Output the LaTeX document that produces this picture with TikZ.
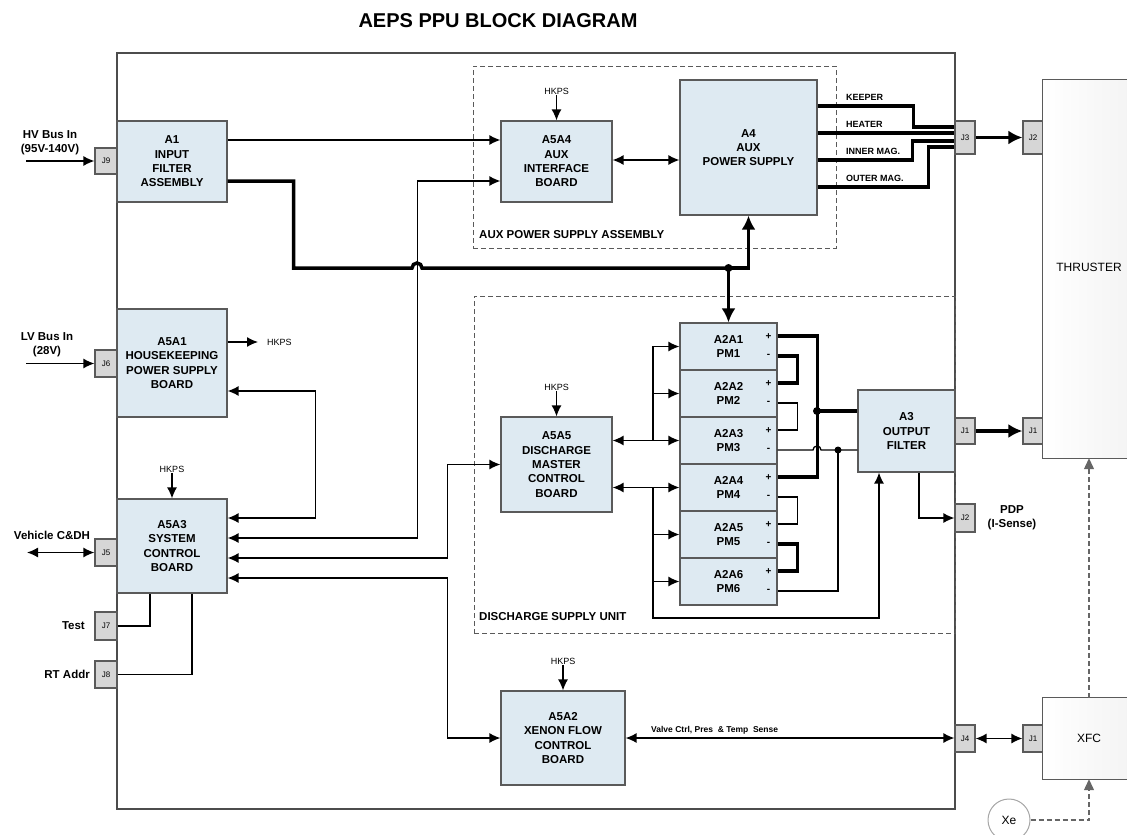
\documentclass[tikz,border=0pt]{standalone}
\usepackage{fontspec}
\setmainfont{Liberation Sans}
\usetikzlibrary{arrows.meta,positioning}
\definecolor{blockblue}{RGB}{222,234,242}
\definecolor{edgegray}{RGB}{90,90,90}
\definecolor{jackgray}{RGB}{214,214,214}

\begin{document}
\begin{tikzpicture}[x=1pt,y=-1pt,
    blk/.style={draw=edgegray,fill=blockblue,line width=1.2pt,inner sep=0pt,align=center,
                font=\bfseries\fontsize{11.5}{14.3}\selectfont},
    jack/.style={draw=edgegray,fill=jackgray,line width=1.2pt,inner sep=0pt,
                 font=\fontsize{8}{9}\selectfont},
    lbl/.style={font=\bfseries\fontsize{11.5}{14}\selectfont,align=center,inner sep=1pt},
    hk/.style={font=\fontsize{9}{10}\selectfont,inner sep=1pt},
    tag/.style={font=\bfseries\fontsize{9}{10}\selectfont,anchor=west,inner sep=1pt},
    pol/.style={font=\bfseries\fontsize{10}{10}\selectfont,inner sep=0pt},
    grp/.style={draw=edgegray,line width=1pt,dash pattern=on 5pt off 3pt,inner sep=0pt},
    wire/.style={line width=1.3pt},
    bus/.style={line width=3.5pt},
    arr/.style={wire,-{Latex[length=11pt,width=10pt]}},
    dbl/.style={wire,{Latex[length=11pt,width=10pt]}-{Latex[length=11pt,width=10pt]}},
    barr/.style={bus,-{Latex[length=14pt,width=14pt]}},
    dot/.style={circle,fill,inner sep=0pt,minimum size=8pt},
    ext/.style={left color=white,right color=gray!12,inner sep=0pt},
    rim/.style={draw=edgegray,line width=1.2pt},
    txt/.style={font=\fontsize{12}{14}\selectfont,inner sep=0pt},
    gline/.style={draw=gray!80!black,line width=1.2pt,dash pattern=on 5pt off 3pt,
                  -{Triangle[length=11pt,width=10pt]}}
  ]
  \useasboundingbox (0,0) rectangle (1127,835);

  \node[font=\bfseries\fontsize{20}{24}\selectfont] (ttl) at (498,21) {AEPS PPU BLOCK DIAGRAM};

  \node[draw=gray!60!black,line width=1.5pt,minimum width=838pt,minimum height=756pt,inner sep=0pt] (ppu) at (536,431) {};
  \node[grp,minimum width=363pt,minimum height=182pt] (aux) at (654.5,157) {};
  \node[grp,minimum width=481pt,minimum height=337pt] (dsu) at (714.5,464.5) {};
  \node[lbl,anchor=west] (auxlbl) at (478,235) {AUX POWER SUPPLY ASSEMBLY};
  \node[lbl,anchor=west] (dsulbl) at (478,617) {DISCHARGE SUPPLY UNIT};

  \node[blk,minimum width=110pt,minimum height=81pt] (A1) at (172,161.5) {A1\\INPUT\\FILTER\\ASSEMBLY};
  \node[blk,minimum width=111pt,minimum height=81pt] (A5A4) at (556.5,161.5) {A5A4\\AUX\\INTERFACE\\BOARD};
  \node[blk,minimum width=137pt,minimum height=135pt] (A4) at (748.5,147.5) {A4\\AUX\\POWER SUPPLY};
  \node[blk,minimum width=110pt,minimum height=108pt] (A5A1) at (172,363) {A5A1\\HOUSEKEEPING\\POWER SUPPLY\\BOARD};
  \node[blk,minimum width=110pt,minimum height=94pt] (A5A3) at (172,546) {A5A3\\SYSTEM\\CONTROL\\BOARD};
  \node[blk,minimum width=111pt,minimum height=95pt] (A5A5) at (556.5,464.5) {A5A5\\DISCHARGE\\MASTER\\CONTROL\\BOARD};
  \node[blk,minimum width=124pt,minimum height=94pt] (A5A2) at (563,738) {A5A2\\XENON FLOW\\CONTROL\\BOARD};
  \node[blk,minimum width=97pt,minimum height=82pt] (A3) at (906.5,431) {A3\\OUTPUT\\FILTER};

  \foreach \i in {1,...,6}
  {\node[blk,minimum width=97pt,minimum height=47pt] (PM\i) at (728.5,{346.5+47*(\i-1)}) {A2A\i\\PM\i};
   \node[pol] (pl\i) at ([xshift=-9pt,yshift=9.5pt]PM\i.east) {+};
   \node[pol] (mn\i) at ([xshift=-9pt,yshift=-9.5pt]PM\i.east) {-};
  };

  \foreach \n/\x/\y/\w/\h/\t in {J9/106/161/22/26/J9, J6/106/363.5/22/27/J6, J5/106/552.5/22/27/J5,
                                 J7/106/626/22/28/J7, J8/106/674.5/22/27/J8,
                                 J3/965/137.5/20/33/J3, J1a/965/431/20/26/J1, J2a/965/518/20/28/J2,
                                 J4/965/738.5/20/27/J4, J2t/1033/137.5/20/33/J2, J1t/1033/431/20/26/J1,
                                 J1x/1033/738.5/20/27/J1}
  {\node[jack,minimum width=\w pt,minimum height=\h pt] (\n) at (\x,\y) {\t};
  };

  \node[ext,minimum width=120pt,minimum height=378pt] (THR) at (1103,269) {};
  \node[ext,minimum width=120pt,minimum height=81pt] (XFC) at (1103,738.5) {};
  \foreach \b in {THR,XFC}
  {\draw[rim] (\b.north east) -- (\b.north west) -- (\b.south west) -- (\b.south east);
  };
  \node[txt] (thrlbl) at (1089,267) {THRUSTER};
  \node[txt] (xfclbl) at (1089,738) {XFC};
  \node[circle,draw=gray!70,line width=1pt,fill=white,minimum size=42pt,inner sep=0pt,
        font=\fontsize{12}{14}\selectfont] (Xe) at (1009,820) {Xe};

  \coordinate (hvin) at (26,161);
  \coordinate (lvin) at (26,363.5);
  \coordinate (cdh) at (27,552.5);
  \node[lbl] (hvlbl) at (50,143) {HV Bus In\\(95V-140V)};
  \node[lbl] (lvlbl) at (47,345) {LV Bus In\\(28V)};
  \node[lbl] (cdhlbl) at (52,535) {Vehicle C\&DH};
  \node[lbl,anchor=east] (tstlbl) at (86,626) {Test};
  \node[lbl,anchor=east] (rtlbl) at (91,674.5) {RT Addr};
  \draw[arr] (hvin) -- (J9.west);
  \draw[arr] (lvin) -- (J6.west);
  \draw[dbl] (cdh) -- (J5.west);
  \draw[wire] (J7.east) -| ([xshift=-22pt]A5A3.south);
  \draw[wire] (J8.east) -| ([xshift=20pt]A5A3.south);

  \foreach \b/\h in {A5A4/hk4,A5A5/hk5,A5A2/hk2,A5A3/hk3}
  {\node[hk,above=25pt of \b] (\h) {HKPS};
   \draw[arr] (\h.south) -- (\b.north);
  };
  \node[hk,anchor=west] (hk1) at (266,342) {HKPS};
  \draw[arr] ([yshift=21pt]A5A1.east) -- ([xshift=-8pt]hk1.west);

  \draw[arr] ([yshift=21.5pt]A1.east) -- ([yshift=21.5pt]A5A4.west);
  \draw[dbl] ([yshift=1.5pt]A5A4.east) -- ([yshift=-12.5pt]A4.west);
  \draw[dbl] ([yshift=8pt]A5A3.east) -- ++(190,0) |- ([yshift=-19.5pt]A5A4.west);
  \draw[dbl] ([yshift=-28pt]A5A1.east) -- ++(88,0) |- ([yshift=28pt]A5A3.east);
  \draw[dbl] ([yshift=-12pt]A5A3.east) -- ++(220,0) |- (A5A5.west);
  \draw[dbl] ([yshift=-32pt]A5A3.east) -- ++(220,0) |- (A5A2.west);

  \node[dot] (jn) at (728.5,268) {};
  \draw[bus] ([yshift=-19.5pt]A1.east) -- ++(66,0) |- (412,268)
        arc[start angle=180,end angle=0,radius=5pt] -- (jn.center);
  \draw[barr] (jn.center) -| (A4.south);
  \draw[barr] (jn.center) -- (PM1.north);

  \draw[bus] ([yshift=41.5pt]A4.east) -- ++(96,0) |- ([yshift=10.5pt]J3.west);
  \draw[bus] ([yshift=14.5pt]A4.east) -- ([yshift=4.5pt]J3.west);
  \draw[bus] ([yshift=-12.5pt]A4.east) -- ++(95,0) |- ([yshift=-3.5pt]J3.west);
  \draw[bus] ([yshift=-39.5pt]A4.east) -- ++(111,0) |- ([yshift=-9.5pt]J3.west);
  \foreach \n/\y/\t in {kp/97/KEEPER,ht/124/HEATER,im/151/INNER MAG.,om/178/OUTER MAG.}
  {\node[tag] (\n) at (845,\y) {\t};
  };
  \draw[barr] (J3.east) -- (J2t.west);

  \coordinate (bx) at (653,0);
  \draw[dbl] (A5A5.east |- PM3.west) -- (PM3.west);
  \draw[dbl] (A5A5.east |- PM4.west) -- (PM4.west);
  \draw[arr] (bx |- PM3.west) |- (PM1.west);
  \draw[arr] (bx |- PM2.west) -- (PM2.west);
  \draw[arr] (bx |- PM4.west) |- (PM6.west);
  \draw[arr] (bx |- PM5.west) -- (PM5.west);
  \draw[arr] (bx |- PM6.west) -- ++(0,36.5) -| ([xshift=-27.5pt]A3.south);

  \draw[bus] ([yshift=10.5pt]PM1.east) -- ++(40,0) |- ([yshift=10.5pt]PM4.east);
  \node[dot] (dp) at (817,411) {};
  \draw[bus] (dp.center) -- (dp -| A3.west);
  \foreach \a/\b/\s in {1/2/bus,2/3/wire,4/5/wire,5/6/bus}
  {\draw[\s] ([yshift=-9.5pt]PM\a.east) -- ++(20,0) |- ([yshift=10.5pt]PM\b.east);
  };
  \node[dot,minimum size=7pt] (dm) at (838,450) {};
  \draw[wire] ([yshift=-9.5pt]PM3.east) -- (813,450)
        arc[start angle=180,end angle=0,radius=4pt] -- (dm -| A3.west);
  \draw[wire] ([yshift=-9.5pt]PM6.east) -| (dm.center);

  \draw[barr] (J1a.east) -- (J1t.west);
  \draw[arr] ([xshift=12.5pt]A3.south) |- (J2a.west);
  \node[lbl] (pdp) at (1012,518) {PDP\\(I-Sense)};

  \draw[dbl] (A5A2.east) -- (A5A2.east -| J4.west);
  \node[font=\bfseries\fontsize{8.5}{9}\selectfont,anchor=west,inner sep=0pt] (vlbl) at (651,730) {Valve Ctrl, Pres\ \ \& Temp\ \ Sense};
  \draw[dbl] (J4.east) -- (J1x.west);
  \draw[gline] ([xshift=-14pt]XFC.north) -- ([xshift=-14pt]THR.south);
  \draw[gline] (Xe.east) -| ([xshift=-14pt]XFC.south);
\end{tikzpicture}
\end{document}
